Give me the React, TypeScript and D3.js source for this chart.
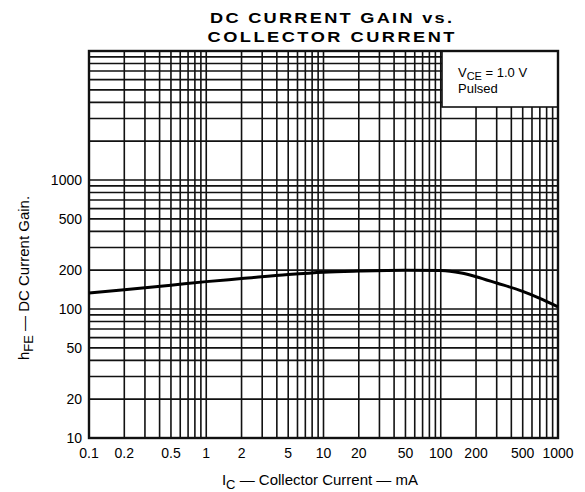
import React from "react";
import * as d3 from "d3";

const W = 585;
const H = 492;

// Data
const icValues = [0.1, 0.2, 0.5, 1, 2, 5, 10, 20, 50, 100, 150, 200, 300, 500, 700, 1000];
const hfeValues = [133, 141, 153, 163, 172, 185, 193, 197, 200, 199, 190, 178, 159, 137, 121, 104];

const xTickLabels = ["0.1", "0.2", "0.5", "1", "2", "5", "10", "20", "50", "100", "200", "500", "1000"];
const yTickLabels = ["10", "20", "50", "100", "200", "500", "1000"];

const xDomain: [number, number] = [0.1, 1000];
const yDomain: [number, number] = [10, 10000];

const titleLines = ["DC CURRENT GAIN vs.", "COLLECTOR CURRENT"];

function gridValues(lo: number, hi: number): number[] {
  const out: number[] = [];
  for (let e = Math.floor(Math.log10(lo)); e < Math.ceil(Math.log10(hi)); e++) {
    for (let m = 1; m <= 9; m++) {
      const v = m * Math.pow(10, e);
      if (v > lo * 1.0001 && v < hi * 0.9999) out.push(v);
    }
  }
  return out;
}

export default function App() {
  const left = 89, right = 558, top = 51, bottom = 438;
  const x = d3.scaleLog().domain(xDomain).range([left, right]);
  const y = d3.scaleLog().domain(yDomain).range([bottom, top]);

  const box = { x0: 442, x1: right, y0: top, y1: 107 };

  const line = d3
    .line<number>()
    .x((_, i) => x(icValues[i]))
    .y((d) => y(d))
    .curve(d3.curveMonotoneX);

  const font = "'Liberation Sans', Arial, sans-serif";
  const sx = 1.3;

  return (
    <svg
      width={W}
      height={H}
      style={{ position: "absolute", left: 0, top: 0, background: "#fff" }}
      fontFamily={font}
    >
      <rect x={0} y={0} width={W} height={H} fill="#fff" />
      {/* title */}
      <g transform={`translate(331,23) scale(${sx},1)`}>
        <text x={0} y={0} textAnchor="middle" fontSize={14} fontWeight="bold" textLength={242 / sx} lengthAdjust="spacing">
          {titleLines[0]}
        </text>
      </g>
      <g transform={`translate(331,42) scale(${sx},1)`}>
        <text x={0} y={0} textAnchor="middle" fontSize={14} fontWeight="bold" textLength={247 / sx} lengthAdjust="spacing">
          {titleLines[1]}
        </text>
      </g>

      {/* grid */}
      <g stroke="#111" strokeWidth={1.6}>
        {gridValues(yDomain[0], yDomain[1]).map((v) => (
          <line key={"h" + v} x1={left} x2={right} y1={y(v)} y2={y(v)} />
        ))}
        {gridValues(xDomain[0], xDomain[1]).map((v) => (
          <line key={"v" + v} x1={x(v)} x2={x(v)} y1={top} y2={bottom} />
        ))}
      </g>

      {/* legend box */}
      <rect x={box.x0} y={box.y0} width={box.x1 - box.x0} height={box.y1 - box.y0} fill="#fff" stroke="#111" strokeWidth={1.6} />
      <text x={458} y={77} fontSize={13}>
        V<tspan fontSize={11} dy={3}>CE</tspan>
        <tspan dy={-3}> = 1.0 V</tspan>
      </text>
      <text x={458} y={93} fontSize={13}>Pulsed</text>

      {/* frame */}
      <rect x={left} y={top} width={right - left} height={bottom - top} fill="none" stroke="#111" strokeWidth={2.4} />

      {/* curve */}
      <path d={line(hfeValues) || ""} fill="none" stroke="#000" strokeWidth={3} />

      {/* y tick labels */}
      {yTickLabels.map((t) => (
        <text key={"yl" + t} x={82} y={y(+t) + 5} textAnchor="end" fontSize={14}>
          {t}
        </text>
      ))}
      {/* x tick labels */}
      {xTickLabels.map((t) => (
        <text key={"xl" + t} x={x(+t)} y={458} textAnchor="middle" fontSize={14}>
          {t}
        </text>
      ))}

      {/* axis titles */}
      <text x={320} y={485} textAnchor="middle" fontSize={15}>
        I<tspan fontSize={13} dy={4}>C</tspan>
        <tspan dy={-4}> — Collector Current — mA</tspan>
      </text>
      <text transform="translate(29,278) rotate(-90)" textAnchor="middle" fontSize={15}>
        h<tspan fontSize={13} dy={4}>FE</tspan>
        <tspan dy={-4}> — DC Current Gain.</tspan>
      </text>
    </svg>
  );
}
